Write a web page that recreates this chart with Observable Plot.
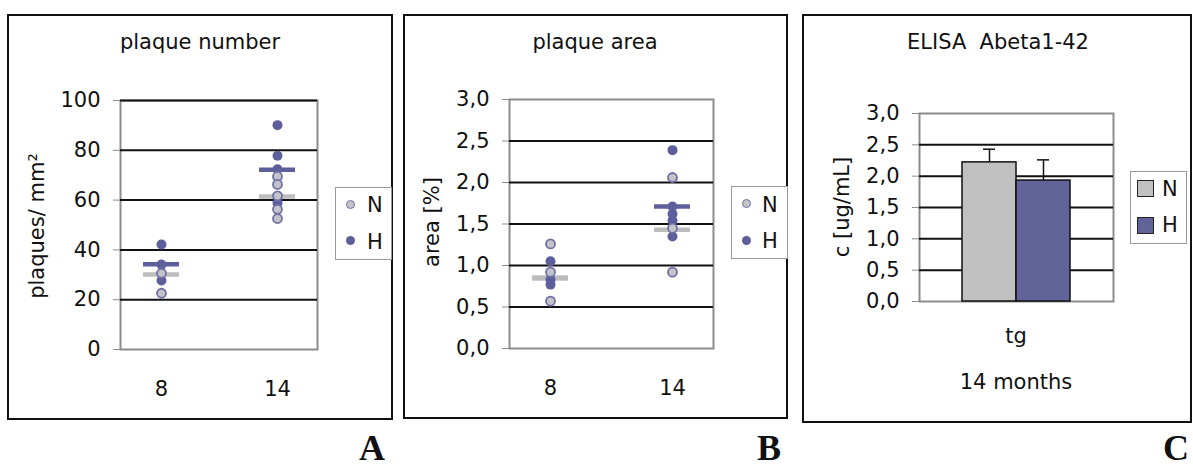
<!DOCTYPE html>
<html><head><meta charset="utf-8">
<script src="https://cdn.jsdelivr.net/npm/d3@7"></script>
<script src="https://cdn.jsdelivr.net/npm/@observablehq/plot@0.6"></script>
<style>
body{margin:0;background:#fff;width:1193px;height:468px;position:relative;overflow:hidden;font-family:"DejaVu Sans",sans-serif;color:#111;}
.frame{position:absolute;border:2px solid #111;box-sizing:border-box;}
.t{position:absolute;font-size:21px;line-height:21px;white-space:nowrap;}
.c{transform:translateX(-50%);}
.rot{transform:translate(-50%,-50%) rotate(-90deg);}
.leg{position:absolute;border:1px solid #999;box-sizing:border-box;background:#fff;}
.dot{position:absolute;width:9px;height:9px;border-radius:50%;box-sizing:border-box;}
.sw{position:absolute;width:17px;height:17px;box-sizing:border-box;border:1px solid #222;}
.letter{position:absolute;font-family:"Liberation Serif",serif;font-weight:bold;font-size:36px;line-height:28px;}
.panel{position:absolute;}
</style></head>
<body>
<div class="frame" style="left:7px;top:14px;width:386px;height:406px"></div>
<div class="frame" style="left:403px;top:14px;width:385px;height:405px"></div>
<div class="frame" style="left:802px;top:14px;width:390px;height:409px"></div>
<div id="pA" class="panel" style="left:7px;top:14px"></div>
<div id="pB" class="panel" style="left:403px;top:14px"></div>
<div id="pC" class="panel" style="left:802px;top:14px"></div>

<div class="t c" style="left:200px;top:32px">plaque number</div>
<div class="t c" style="left:595px;top:32px">plaque area</div>
<div class="t c" style="left:998px;top:32px">ELISA&nbsp;&nbsp;Abeta1-42</div>
<div class="t rot" style="left:37px;top:226px">plaques/ mm²</div>
<div class="t rot" style="left:432px;top:222px">area [%]</div>
<div class="t rot" style="left:842px;top:207px">c [ug/mL]</div>
<div class="t c" style="left:1016px;top:326px">tg</div>
<div class="t c" style="left:1016px;top:372px">14 months</div>

<div class="leg" style="left:335px;top:187px;width:57px;height:73px"></div>
<div class="dot" style="left:346px;top:200px;background:#c4c4c8;border:1.5px solid #6f70a8"></div>
<div class="dot" style="left:346px;top:236px;background:#5d5f9b"></div>
<div class="t" style="left:367px;top:195px">N</div>
<div class="t" style="left:367px;top:232px">H</div>

<div class="leg" style="left:731px;top:186px;width:57px;height:73px"></div>
<div class="dot" style="left:742px;top:199px;background:#c4c4c8;border:1.5px solid #6f70a8"></div>
<div class="dot" style="left:742px;top:236px;background:#5d5f9b"></div>
<div class="t" style="left:762px;top:195px">N</div>
<div class="t" style="left:762px;top:231px">H</div>

<div class="leg" style="left:1130px;top:171px;width:57px;height:73px"></div>
<div class="sw" style="left:1137px;top:180px;background:#c0c0c0"></div>
<div class="sw" style="left:1137px;top:217px;background:#626398"></div>
<div class="t" style="left:1162px;top:179px">N</div>
<div class="t" style="left:1162px;top:215px">H</div>

<div class="letter" style="left:359px;top:434px">A</div>
<div class="letter" style="left:757px;top:434px">B</div>
<div class="letter" style="left:1163px;top:434px">C</div>

<script>
// ---- data ----
const ages = ["8", "14"];
// A: plaque number (plaques / mm²)
const numberN8 = [30.6, 22.6];
const numberH8 = [42.2, 34.1, 27.7];
const numberN14 = [69.5, 66.3, 61.7, 56.3, 52.6];
const numberH14 = [90.1, 77.8, 72.4, 58.8];
const numberMeanN = [30.1, 61.4];
const numberMeanH = [34.2, 72.2];
const numberTicks = [0, 20, 40, 60, 80, 100];
// B: plaque area (%)
const areaN8 = [1.26, 0.92, 0.57];
const areaH8 = [1.05, 0.83, 0.77];
const areaN14 = [2.06, 1.45, 0.92];
const areaH14 = [2.39, 1.71, 1.62, 1.54, 1.35];
const areaMeanN = [0.85, 1.43];
const areaMeanH = [0.85, 1.71];
const areaTicks = [0, 0.5, 1, 1.5, 2, 2.5, 3];
// C: ELISA Abeta1-42 (ug/mL), 14 months tg
const elisaGroups = ["N", "H"];
const elisaMean = [2.22, 1.93];
const elisaErr = [0.21, 0.33];
const elisaTicks = [0, 0.5, 1, 1.5, 2, 2.5, 3];

// ---- styling ----
const purple = "#5d5f9b";
const nFill = "#c4c4c8";
const nStroke = "#6f70a8";
const nMean = "#bdbdbd";
const frameGray = "#8c8c8c";
const comma = d => d.toFixed(1).replace(".", ",");

const pts = (age, vals) => vals.map(v => ({age, value: v}));
const means = arr => arr.map((v, i) => ({age: ages[i], value: v}));

function scatter({N, H, mN, mH, ticks, grid, fmt, w, h, ml, mr, mt, mb, pad}) {
  return Plot.plot({
    width: w, height: h, marginLeft: ml, marginRight: mr, marginTop: mt, marginBottom: mb,
    style: {fontFamily: "DejaVu Sans", fontSize: "21px", color: "#111", background: "transparent"},
    x: {type: "point", domain: ages, padding: pad, align: 0.5},
    y: {domain: [ticks[0], ticks[ticks.length - 1]]},
    marks: [
      Plot.frame({stroke: frameGray, strokeWidth: 2}),
      Plot.ruleY(grid, {stroke: "#111", strokeWidth: 2}),
      Plot.axisY({ticks, tickFormat: fmt, tickSize: 7, tickPadding: 13, stroke: frameGray, fill: "#111", fontSize: 21, label: null}),
      Plot.axisX({tickSize: 0, tickPadding: 32, fill: "#111", fontSize: 21, label: null}),
      Plot.ruleY(mH, {x1: "age", x2: "age", y: "value", insetLeft: -18, insetRight: -18, stroke: purple, strokeWidth: 4.5}),
      Plot.ruleY(mN, {x1: "age", x2: "age", y: "value", insetLeft: -18, insetRight: -18, stroke: nMean, strokeWidth: 4.5}),
      Plot.dot(H, {x: "age", y: "value", r: 5, fill: purple}),
      Plot.dot(N, {x: "age", y: "value", r: 4.5, fill: nFill, stroke: nStroke, strokeWidth: 1.8})
    ]
  });
}

document.getElementById("pA").append(scatter({
  N: [...pts("8", numberN8), ...pts("14", numberN14)],
  H: [...pts("8", numberH8), ...pts("14", numberH14)],
  mN: means(numberMeanN), mH: means(numberMeanH),
  ticks: numberTicks, grid: [20, 40, 60, 80, 100], fmt: d => d,
  w: 386, h: 406, ml: 113, mr: 76, mt: 86, mb: 71, pad: 0.342
}));

document.getElementById("pB").append(scatter({
  N: [...pts("8", areaN8), ...pts("14", areaN14)],
  H: [...pts("8", areaH8), ...pts("14", areaH14)],
  mN: means(areaMeanN), mH: means(areaMeanH),
  ticks: areaTicks, grid: [0.5, 1, 1.5, 2, 2.5], fmt: comma,
  w: 385, h: 405, ml: 106, mr: 75, mt: 85, mb: 71, pad: 0.336
}));

const elisa = elisaGroups.map((g, i) => ({group: g, mean: elisaMean[i], top: elisaMean[i] + elisaErr[i]}));
document.getElementById("pC").append(Plot.plot({
  width: 390, height: 409, marginLeft: 117, marginRight: 79, marginTop: 99, marginBottom: 122,
  style: {fontFamily: "DejaVu Sans", fontSize: "21px", color: "#111", background: "transparent"},
  x: {type: "band", domain: elisaGroups, paddingInner: 0, paddingOuter: 0.764, align: 0.5, axis: null},
  y: {domain: [0, 3]},
  color: {domain: elisaGroups, range: ["#c0c0c0", "#626398"]},
  marks: [
    Plot.frame({stroke: frameGray, strokeWidth: 2}),
    Plot.ruleY([0.5, 1, 1.5, 2, 2.5], {stroke: "#111", strokeWidth: 2}),
    Plot.axisY({ticks: elisaTicks, tickFormat: comma, tickSize: 7, tickPadding: 13, stroke: frameGray, fill: "#111", fontSize: 21, label: null}),
    Plot.ruleX(elisa, {x: "group", y1: "mean", y2: "top", stroke: "#111", strokeWidth: 1.5}),
    Plot.tickY(elisa, {x: "group", y: "top", insetLeft: 21, insetRight: 21, stroke: "#111", strokeWidth: 1.5}),
    Plot.barY(elisa, {x: "group", y: "mean", fill: "group", stroke: "#111", strokeWidth: 1.5})
  ]
}));
</script>
</body></html>
